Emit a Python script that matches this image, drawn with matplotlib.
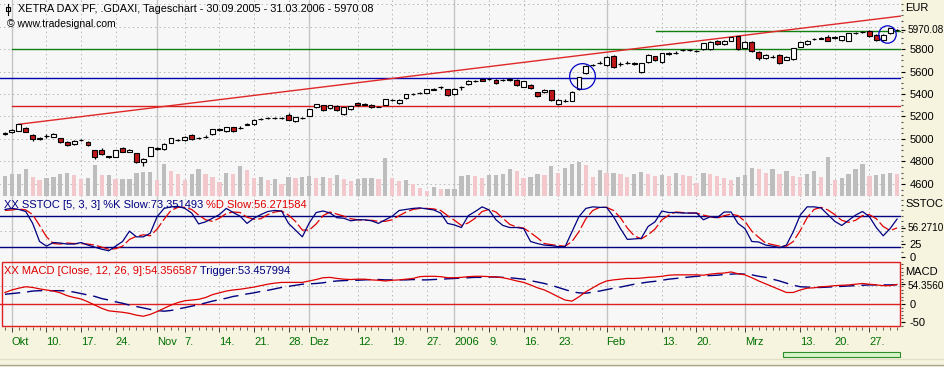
import numpy as np
import pandas as pd
import matplotlib
matplotlib.use("Agg")
import matplotlib.pyplot as plt
from matplotlib.patches import Rectangle
from matplotlib.lines import Line2D
from matplotlib.ticker import MultipleLocator, FixedLocator

plt.rcParams["font.family"] = ["Liberation Sans", "DejaVu Sans"]
plt.rcParams["font.size"] = 8
plt.rcParams["lines.scale_dashes"] = False

# %% data
# Xetra trading days 30.09.2005 - 31.03.2006, 26.12. closed
days = pd.bdate_range("2005-09-30", "2006-03-31")
days = days[days != pd.Timestamp("2005-12-26")]

opens = [
    5048, 5060, 5074, 5100, 5035, 5005, 5025, 5020, 5006, 4976,
    4955, 4988, 4973, 4902, 4902, 4845, 4843, 4920, 4887, 4873,
    4798, 4852, 4915, 4909, 4968, 4990, 4987, 5035, 5007, 5018,
    5042, 5084, 5071, 5104, 5098, 5128, 5131, 5176, 5188, 5185,
    5186, 5211, 5160, 5185, 5207, 5280, 5300, 5278, 5290, 5222,
    5266, 5317, 5306, 5305, 5286, 5302, 5348, 5320, 5362, 5399,
    5410, 5412, 5440, 5458, 5442, 5400, 5458, 5486, 5514, 5530,
    5533, 5525, 5523, 5528, 5525, 5462, 5483, 5418, 5415, 5436,
    5308, 5338, 5340, 5442, 5584, 5656, 5677, 5658, 5738, 5665,
    5677, 5671, 5600, 5687, 5735, 5687, 5759, 5765, 5789, 5789,
    5783, 5797, 5797, 5874, 5842, 5874, 5915, 5806, 5865, 5776,
    5720, 5730, 5747, 5705, 5708, 5821, 5842, 5887, 5893, 5910,
    5902, 5880, 5874, 5943, 5951, 5963, 5924, 5880, 5940, 5968,
]
highs = [
    5065, 5090, 5135, 5110, 5040, 5018, 5040, 5055, 5012, 4980,
    4990, 5003, 4980, 4905, 4918, 4852, 4905, 4925, 4910, 4876,
    4828, 4930, 4930, 4965, 5012, 5002, 5025, 5040, 5020, 5032,
    5090, 5095, 5110, 5110, 5115, 5145, 5175, 5188, 5198, 5195,
    5195, 5230, 5198, 5195, 5270, 5315, 5305, 5305, 5298, 5288,
    5296, 5325, 5318, 5310, 5294, 5358, 5360, 5356, 5402, 5405,
    5422, 5448, 5452, 5472, 5448, 5450, 5470, 5522, 5524, 5536,
    5542, 5530, 5532, 5540, 5530, 5518, 5488, 5422, 5445, 5440,
    5352, 5352, 5425, 5555, 5655, 5668, 5690, 5738, 5745, 5682,
    5690, 5685, 5678, 5752, 5742, 5766, 5772, 5778, 5802, 5800,
    5795, 5856, 5870, 5880, 5880, 5910, 5920, 5870, 5870, 5780,
    5756, 5745, 5752, 5735, 5812, 5866, 5880, 5900, 5905, 5925,
    5915, 5920, 5946, 5955, 5962, 5968, 5930, 5930, 5990, 5980,
]
lows = [
    5035, 5052, 5070, 5060, 4985, 4990, 5012, 5015, 4965, 4935,
    4945, 4978, 4940, 4825, 4855, 4835, 4840, 4880, 4880, 4790,
    4760, 4848, 4905, 4900, 4962, 4980, 4982, 4995, 4998, 5008,
    5038, 5075, 5066, 5065, 5090, 5120, 5128, 5168, 5180, 5178,
    5178, 5165, 5150, 5175, 5200, 5275, 5250, 5270, 5252, 5215,
    5260, 5295, 5298, 5275, 5280, 5298, 5340, 5315, 5358, 5395,
    5402, 5408, 5432, 5448, 5380, 5395, 5440, 5480, 5508, 5512,
    5528, 5490, 5516, 5520, 5470, 5458, 5445, 5370, 5410, 5340,
    5300, 5330, 5335, 5438, 5580, 5648, 5668, 5650, 5630, 5650,
    5665, 5660, 5585, 5680, 5695, 5680, 5750, 5755, 5780, 5780,
    5772, 5792, 5790, 5838, 5838, 5868, 5790, 5800, 5775, 5705,
    5714, 5718, 5665, 5700, 5702, 5815, 5836, 5878, 5885, 5868,
    5892, 5875, 5868, 5935, 5942, 5910, 5872, 5875, 5935, 5960,
]
closes = [
    5051, 5080, 5131, 5065, 5000, 5003, 5027, 5045, 4971, 4947,
    4980, 4991, 4947, 4843, 4864, 4843, 4902, 4887, 4902, 4798,
    4820, 4926, 4917, 4956, 5006, 4991, 5020, 5000, 5009, 5020,
    5086, 5086, 5104, 5071, 5100, 5130, 5169, 5178, 5190, 5187,
    5187, 5169, 5193, 5187, 5267, 5308, 5258, 5298, 5258, 5282,
    5290, 5300, 5308, 5280, 5287, 5353, 5350, 5350, 5397, 5400,
    5412, 5442, 5442, 5460, 5390, 5445, 5460, 5516, 5516, 5516,
    5535, 5495, 5525, 5530, 5480, 5512, 5455, 5382, 5440, 5347,
    5347, 5340, 5420, 5548, 5649, 5658, 5679, 5732, 5637, 5667,
    5679, 5673, 5673, 5747, 5700, 5761, 5761, 5767, 5791, 5791,
    5785, 5850, 5865, 5842, 5874, 5904, 5797, 5865, 5785, 5717,
    5750, 5732, 5673, 5730, 5806, 5860, 5874, 5889, 5895, 5874,
    5904, 5915, 5940, 5945, 5953, 5915, 5880, 5924, 5984, 5970.08,
]
# volume, relative units (bar heights)
volumes = [
    20, 22, 22, 27, 19, 16, 18, 19, 22, 23,
    21, 17, 18, 31, 21, 21, 17, 17, 17, 23,
    24, 24, 16, 32, 25, 22, 16, 22, 27, 22,
    19, 14, 23, 22, 30, 26, 18, 19, 16, 17,
    12, 19, 18, 19, 20, 18, 19, 18, 21, 17,
    15, 17, 18, 18, 17, 38, 18, 15, 16, 12,
    8, 5, 9, 7, 7, 7, 20, 21, 20, 18,
    21, 21, 22, 27, 25, 18, 19, 22, 21, 30,
    23, 28, 32, 34, 31, 19, 26, 23, 23, 22,
    19, 22, 24, 22, 20, 21, 20, 23, 21, 20,
    13, 23, 22, 20, 18, 16, 19, 21, 28, 27,
    23, 27, 22, 25, 20, 19, 22, 25, 19, 39,
    16, 18, 22, 27, 32, 20, 21, 22, 23, 22,
]
stoch_k = [
    92, 94, 92, 88, 65, 30, 21, 28, 27, 25,
    25, 28, 23, 19, 15, 12, 21, 30, 50, 39,
    39, 46, 78, 94, 97, 98, 94, 85, 64, 68,
    75, 82, 94, 86, 79, 65, 75, 82, 88, 90,
    89, 65, 52, 39, 66, 86, 89, 85, 76, 75,
    70, 72, 72, 70, 65, 72, 79, 90, 92, 94,
    95, 93, 91, 85, 65, 62, 57, 80, 88, 97,
    91, 72, 61, 57, 57, 55, 30, 26, 23, 22,
    20, 20, 49, 78, 94, 97, 96, 96, 78, 55,
    34, 35, 36, 59, 68, 89, 86, 86, 85, 85,
    85, 72, 78, 76, 87, 87, 65, 55, 30, 29,
    23, 21, 18, 23, 49, 81, 97, 97, 95, 82,
    69, 61, 71, 81, 88, 78, 57, 41, 55, 73.351493,
]
stoch_d = [
    90, 91, 93, 91, 82, 61, 39, 26, 25, 27,
    26, 26, 25, 23, 19, 15, 16, 21, 34, 40,
    43, 41, 54, 73, 90, 96, 96, 92, 81, 72,
    69, 75, 84, 87, 86, 77, 73, 74, 82, 87,
    89, 81, 69, 52, 52, 64, 80, 87, 83, 79,
    74, 72, 71, 71, 69, 69, 72, 80, 87, 92,
    94, 94, 93, 90, 80, 71, 61, 66, 75, 88,
    92, 87, 75, 63, 58, 56, 47, 37, 26, 24,
    22, 21, 30, 49, 74, 90, 96, 96, 90, 76,
    56, 41, 35, 43, 54, 72, 81, 87, 86, 85,
    85, 81, 78, 75, 80, 83, 80, 69, 50, 38,
    27, 24, 21, 21, 30, 51, 76, 92, 96, 91,
    82, 71, 67, 71, 80, 82, 74, 59, 51, 56.271584,
]
macd = [
    32, 39, 44, 48, 46, 42, 39, 36, 31, 23,
    18, 14, 6, -3, -12, -19, -21, -23, -26, -31,
    -34, -29, -21, -12, -3, 4, 9, 11, 13, 18,
    26, 31, 36, 39, 41, 44, 47, 51, 55, 58,
    60, 60, 60, 60, 64, 68, 73, 74, 71, 69,
    68, 69, 69, 67, 66, 64, 66, 67, 69, 71,
    76, 77, 77, 76, 73, 73, 74, 76, 77, 77,
    76, 75, 73, 69, 64, 60, 53, 45, 39, 30,
    20, 11, 8, 20, 34, 45, 56, 64, 67, 69,
    71, 71, 72, 74, 75, 77, 80, 81, 81, 81,
    81, 80, 83, 85, 86, 89, 84, 81, 73, 64,
    56, 48, 40, 32, 32, 39, 44, 45, 48, 49,
    51, 52, 53, 55, 57, 55, 53, 51, 51, 54.356587,
]
trigger = [
    27, 29, 31, 33, 36, 37, 37, 37, 37, 36,
    33, 29, 25, 21, 15, 11, 6, 2, -3, -7,
    -11, -15, -18, -20, -18, -14, -10, -6, -2, 3,
    8, 12, 16, 21, 24, 28, 31, 35, 38, 42,
    46, 49, 52, 55, 56, 57, 59, 62, 64, 65,
    66, 66, 67, 68, 68, 67, 67, 67, 67, 68,
    67, 67, 68, 69, 70, 71, 72, 73, 74, 74,
    75, 75, 74, 73, 71, 69, 65, 61, 57, 52,
    46, 40, 34, 31, 30, 33, 36, 40, 44, 47,
    51, 55, 58, 61, 63, 66, 69, 71, 73, 75,
    77, 78, 79, 80, 82, 83, 84, 83, 81, 77,
    74, 69, 64, 58, 52, 48, 47, 46, 46, 47,
    48, 49, 50, 51, 52, 53, 53, 53, 53, 53.457994,
]

# x axis labels
tick_dates = [
    "2005-10-03", "2005-10-10", "2005-10-17", "2005-10-24", "2005-11-01",
    "2005-11-07", "2005-11-14", "2005-11-21", "2005-11-28", "2005-12-01",
    "2005-12-12", "2005-12-19", "2005-12-27", "2006-01-02", "2006-01-09",
    "2006-01-16", "2006-01-23", "2006-02-01", "2006-02-13", "2006-02-20",
    "2006-03-01", "2006-03-13", "2006-03-20", "2006-03-27",
]
tick_labels = [
    "Okt", "10.", "17.", "24.", "Nov", "7.", "14.", "21.", "28.", "Dez",
    "12.", "19.", "27.", "2006", "9.", "16.", "23.", "Feb", "13.", "20.",
    "Mrz", "13.", "20.", "27.",
]
month_labels = ["Okt", "Nov", "Dez", "2006", "Feb", "Mrz"]

# drawn lines (support / resistance)
trend_start = (2, 5131)
trend_end = (129.6, 6093)
green_low = 5797
green_high = 5963
blue_level = 5540
red_level = 5293

# %% layout
W, H = 945, 367
PX = 6.915  # pixel per trading day
X0 = 5  # pixel of first bar
BG = "#F7F7F7"
CREAM = "#F6F3DF"
NAVY = "#000080"
RED = "#E00000"
GREEN_TXT = "#007000"

x = np.arange(len(closes))
assert len(days) == len(closes)
pos = {d: i for i, d in enumerate(days)}
tick_x = [pos[pd.Timestamp(d)] for d in tick_dates]
month_x = [tx for tx, lb in zip(tick_x, tick_labels) if lb in month_labels]
week_x = [tx for tx, lb in zip(tick_x, tick_labels) if lb not in month_labels]


def box(x0, y0, x1, y1):
    return [x0 / W, 1 - y1 / H, (x1 - x0) / W, (y1 - y0) / H]


def fy(y):
    return 1 - y / H


fig = plt.figure(figsize=(W / 100, H / 100), dpi=100)
fig.patch.set_facecolor(CREAM)

ax_vol = fig.add_axes(box(0, 0, 901, 197))
ax = fig.add_axes(box(0, 0, 901, 197), sharex=ax_vol)
ax_st = fig.add_axes(box(0, 197, 901, 262), sharex=ax_vol)
ax_md = fig.add_axes(box(0, 262, 901, 327), sharex=ax_vol)

ax_vol.set_facecolor(BG)
ax.set_facecolor("none")
ax_st.set_facecolor(BG)
ax_md.set_facecolor(BG)

for a in [ax_vol, ax, ax_st, ax_md]:
    for s in a.spines.values():
        s.set_visible(False)
    a.set_xlim((0 - X0) / PX, (901 - X0) / PX)

dot = (0, (1, 2.2))
grid_col = "#B4B4B4"

# vertical grid
for a in [ax_vol, ax_st, ax_md]:
    for mx in month_x:
        a.axvline(mx, color="#C4C4C4", lw=1, zorder=0)
    for wx in week_x:
        a.axvline(wx, color=grid_col, lw=0.7, ls=dot, zorder=0)

# %% volume
vol_cols = ["#BDBDBD"] + [
    "#BDBDBD" if volumes[i] >= volumes[i - 1] else "#F2C8CD"
    for i in range(1, len(volumes))
]
ax_vol.set_ylim(-1, 196)
for p in range(4600, 6201, 200):
    ax_vol.plot([-5, 135], [p, p], transform=ax.transData, color=grid_col,
                lw=0.7, ls=dot, zorder=0)
ax_vol.bar(x, volumes, width=0.62, color=vol_cols, zorder=1)
ax_vol.set_yticks([])
ax_vol.tick_params(axis="x", which="both", bottom=False, labelbottom=False)

# %% price
ax.set_ylim(4484.4, 6235.6)
ax.axhline(blue_level, color="#0000B0", lw=1, zorder=2)
ax.plot([1, 140], [red_level, red_level], color="#D82020", lw=1, zorder=2)
ax.plot([1, 140], [green_low, green_low], color="#108010", lw=1, zorder=2)
ax.plot([94.1, 140], [green_high, green_high], color="#108010", lw=1, zorder=2)
ax.plot([trend_start[0], trend_end[0]], [trend_start[1], trend_end[1]],
        color="#E02828", lw=1, zorder=2)

o = np.array(opens, dtype=float)
c = np.array(closes, dtype=float)
hi = np.array(highs, dtype=float)
lo = np.array(lows, dtype=float)
up = c >= o
ax.vlines(x, lo, hi, color="black", lw=0.9, zorder=3)
body_lo = np.minimum(o, c)
body_h = np.maximum(np.abs(c - o), 1.0)
ax.bar(x, body_h, bottom=body_lo, width=0.7,
       color=np.where(up, "white", "#C01818"), edgecolor="black",
       linewidth=0.8, zorder=4)

# circles
ax.plot([83.45], [5558], marker="o", ms=18.5, mfc="none", mec="#0000C8",
        mew=0.9, zorder=5)
ax.plot([127.6], [5929], marker="o", ms=12.5, mfc="none", mec="#0000C8",
        mew=0.9, zorder=5)

ax.yaxis.tick_right()
ax.set_yticks(list(range(4600, 5801, 200)) + [closes[-1]])
ax.set_yticklabels([str(v) for v in range(4600, 5801, 200)] + [""])
ax.yaxis.set_minor_locator(MultipleLocator(50))
ax.tick_params(axis="x", which="both", bottom=False, labelbottom=False)

# %% stochastic
ax_st.set_ylim(-9.67, 116.05)
ax_st.axhline(50, color=grid_col, lw=0.7, ls=dot, zorder=0)
ax_st.axhline(80, color=NAVY, lw=1, zorder=1)
ax_st.axhline(20, color=NAVY, lw=1, zorder=1)
ax_st.plot(x, stoch_d, color=RED, lw=0.9, dashes=(9, 2.2), zorder=2)
ax_st.plot(x, stoch_k, color=NAVY, lw=0.9, zorder=3)
ax_st.yaxis.tick_right()
ax_st.set_yticks([0, 25, stoch_d[-1]])
ax_st.set_yticklabels(["0", "25", ""])
ax_st.yaxis.set_minor_locator(MultipleLocator(10))
ax_st.tick_params(axis="x", which="both", bottom=False, labelbottom=False)

# %% MACD
ax_md.set_ylim(-63.9, 116.7)
ax_md.axhline(50, color=grid_col, lw=0.7, ls=dot, zorder=0)
ax_md.axhline(0, color="#E02020", lw=1, zorder=1)
ax_md.plot(x, trigger, color=NAVY, lw=1, dashes=(11, 5), zorder=2)
ax_md.plot(x, macd, color=RED, lw=0.9, zorder=3)
ax_md.add_patch(Rectangle((2 / 901, 0.012), 1 - 2 / 901 - 0.001, 0.985,
                          transform=ax_md.transAxes, fill=False,
                          ec="#E02020", lw=1, zorder=4, clip_on=False))
ax_md.yaxis.tick_right()
ax_md.set_yticks([-50, 0, macd[-1]])
ax_md.set_yticklabels(["-50", "0", ""])
ax_md.yaxis.set_minor_locator(MultipleLocator(10))

ax_md.xaxis.set_major_locator(FixedLocator(tick_x))
ax_md.xaxis.set_minor_locator(FixedLocator(x))
ax_md.set_xticklabels(tick_labels)
ax_md.tick_params(axis="x", which="major", length=3.5, width=0.7,
                  color="#404040", pad=3.5, labelcolor=GREEN_TXT, labelsize=8)
ax_md.tick_params(axis="x", which="minor", length=1.8, width=0.7,
                  color="#606060")
for t in ax_md.get_xticklabels():
    t.set_horizontalalignment("left")

for a in [ax, ax_st, ax_md]:
    a.tick_params(axis="y", which="major", length=3, width=0.8, pad=3,
                  labelsize=8, color="black")
    a.tick_params(axis="y", which="minor", length=1.5, width=0.8,
                  color="#505050")

# long current-value labels on the right scale (squeezed to fit the edge)
for yy, s in [(30, "5970.08"), (228, "56.2710"), (286, "54.3560")]:
    fig.text(907.5 / W, fy(yy), s, ha="left", va="center", fontsize=7.2)

# %% texts
fig.text(18 / W, fy(9), "XETRA DAX PF, .GDAXI, Tageschart - 30.09.2005 - "
         "31.03.2006 - 5970.08", ha="left", va="center", fontsize=7.8)
fig.add_artist(Line2D([8 / W, 8 / W], [fy(4), fy(15)], color="black", lw=0.8))
fig.add_artist(Rectangle((6 / W, fy(11)), 4 / W, 4 / H, fill=False,
                         ec="black", lw=0.8))
fig.text(7 / W, fy(24), "\u00a9 www.tradesignal.com", ha="left", va="center",
         fontsize=7.5)
fig.text(905 / W, fy(8), "EUR", ha="left", va="center", fontsize=8)
fig.text(905 / W, fy(204), "SSTOC", ha="left", va="center", fontsize=8)
fig.text(905 / W, fy(272), "MACD", ha="left", va="center", fontsize=8)

renderer = fig.canvas.get_renderer()


def two_part(x0, y, first, c1, second, c2):
    t1 = fig.text(x0 / W, fy(y), first, ha="left", va="center", color=c1,
                  fontsize=8)
    bb = t1.get_window_extent(renderer)
    fig.text(bb.x1 / W, fy(y), second, ha="left", va="center", color=c2,
             fontsize=8)


two_part(4, 205, "XX SSTOC [5, 3, 3] %K Slow:73.351493 ", NAVY,
         "%D Slow:56.271584", RED)
two_part(4, 271, "XX MACD [Close, 12, 26, 9]:54.356587", RED,
         " Trigger:53.457994", NAVY)

# scroll bar + bottom frame
fig.add_artist(Rectangle((783 / W, fy(357)), 117 / W, 5 / H, fc="#D6F5C6",
                         ec="#2E8B2E", lw=0.8))
fig.add_artist(Line2D([0, 1], [fy(358.5), fy(358.5)], color="#E4E0C8", lw=1))
fig.add_artist(Line2D([0, 1], [fy(364.5), fy(364.5)], color="#A8A48E", lw=1))

plt.savefig("out.png", dpi=100, facecolor=fig.get_facecolor())
